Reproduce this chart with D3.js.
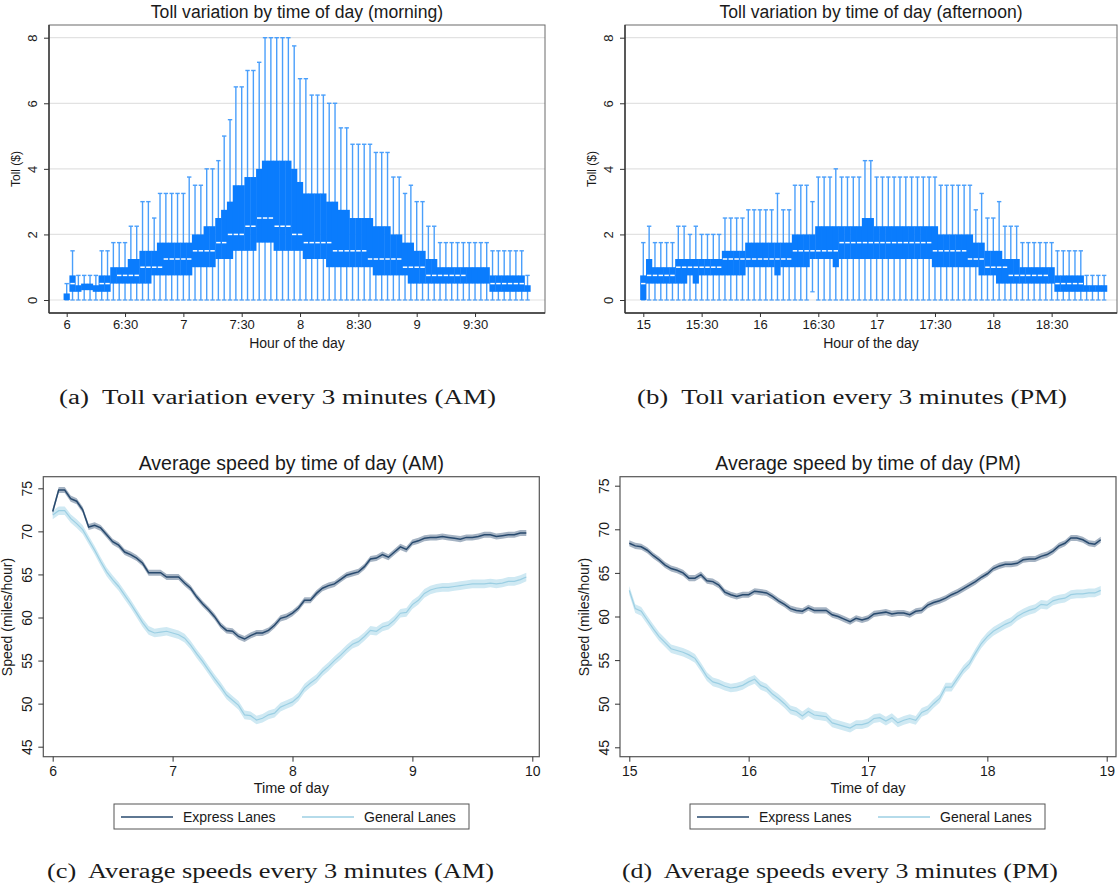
<!DOCTYPE html>
<html>
<head>
<meta charset="utf-8">
<script src="https://cdn.jsdelivr.net/npm/d3@7"></script>
<style>
  body { margin: 0; background: #fff; }
  svg { display: block; }
  text { font-family: "Liberation Sans", Arial, Helvetica, sans-serif; fill: #1a1a1a; }
  .cap { font-family: "Liberation Serif", "DejaVu Serif", serif; }
</style>
</head>
<body>
<svg id="chart" width="1119" height="895"></svg>
<script>
// ---------- DATA ----------
// 3-minute slots, minutes after the start hour
const slotMinutes = [0,3,6,9,12,15,18,21,24,27,30,33,36,39,42,45,48,51,54,57,
  60,63,66,69,72,75,78,81,84,87,90,93,96,99,102,105,108,111,114,117,
  120,123,126,129,132,135,138,141,144,147,150,153,156,159,162,165,168,171,174,177,
  180,183,186,189,192,195,198,201,204,207,210,213,216,219,222,225,228,231,234,237];

const tollTickValues = [0, 30, 60, 90, 120, 150, 180, 210];
const tollTickLabelsAM = ["6", "6:30", "7", "7:30", "8", "8:30", "9", "9:30"];
const tollTickLabelsPM = ["15", "15:30", "16", "16:30", "17", "17:30", "18", "18:30"];
const tollYTicks = [0, 2, 4, 6, 8];

// AM toll box plot ($)
const amHigh = [0.5,1.5,0.75,0.75,0.75,0.75,1.5,1.5,1.75,1.75,
  1.75,2.25,2.25,3.0,3.0,2.5,3.25,3.25,3.25,3.25,
  3.25,3.75,3.5,3.5,4.0,4.0,4.25,5.0,5.5,6.5,
  6.5,7.0,7.0,7.25,8,8,8,8,8,7.75,
  6.75,6.75,6.25,6.25,6.25,6.0,6.0,5.25,5.25,4.75,
  4.75,4.75,4.75,4.5,4.5,4.5,3.75,3.75,3.25,3.5,
  3.0,3.0,2.25,2.25,1.75,1.75,1.75,1.75,1.75,1.75,
  1.75,1.75,1.75,1.5,1.5,1.5,1.5,1.5,1.5,0.75];
const amQ3 = [0.2,0.75,0.45,0.5,0.5,0.45,0.75,0.75,1.0,1.0,
  1.0,1.25,1.25,1.5,1.5,1.5,1.75,1.75,1.75,1.75,
  1.75,1.75,2.0,2.0,2.25,2.25,2.5,2.75,3.0,3.5,
  3.5,3.75,3.75,4.0,4.25,4.25,4.25,4.25,4.25,4.0,
  3.6,3.25,3.25,3.25,3.25,3.0,3.0,2.75,2.75,2.5,
  2.5,2.5,2.5,2.25,2.25,2.25,2.0,2.0,1.75,1.75,
  1.5,1.5,1.25,1.25,1.0,1.0,1.0,1.0,1.0,1.0,
  1.0,1.0,1.0,0.75,0.75,0.75,0.75,0.75,0.75,0.45];
const amMedian = [null,0.5,null,null,null,null,0.5,0.5,null,0.75,
  0.75,0.75,0.75,1.0,1.0,1.0,1.0,1.25,1.25,1.25,
  1.25,1.25,1.5,1.5,1.5,1.5,1.75,1.75,2.0,2.0,
  2.0,2.25,2.25,2.5,2.5,2.5,2.25,2.25,2.25,2.0,
  2.0,1.75,1.75,1.75,1.75,1.75,1.5,1.5,1.5,1.5,
  1.5,1.5,1.25,1.25,1.25,1.25,1.25,1.25,1.0,1.0,
  1.0,1.0,0.75,0.75,0.75,0.75,0.75,0.75,0.75,null,
  null,null,null,0.5,0.5,0.5,0.5,0.5,0.5,null];
const amQ1 = [0,0.25,0.25,0.3,0.3,0.25,0.25,0.25,0.5,0.5,
  0.5,0.5,0.5,0.5,0.5,0.75,0.75,0.75,0.75,0.75,
  0.75,0.75,1.0,1.0,1.0,1.0,1.25,1.25,1.25,1.5,
  1.5,1.5,1.5,1.75,1.75,1.75,1.5,1.5,1.5,1.5,
  1.5,1.25,1.25,1.25,1.25,1.0,1.0,1.0,1.0,1.0,
  1.0,1.0,1.0,0.75,0.75,0.75,0.75,0.75,0.75,0.5,
  0.5,0.5,0.5,0.5,0.5,0.5,0.5,0.5,0.5,0.5,
  0.5,0.5,0.5,0.25,0.25,0.25,0.25,0.25,0.25,0.25];
const amLow = [0,0,0,0,0,0,0,0,0,0, 0,0,0,0,0,0,0,0,0,0,
  0,0,0,0,0,0,0,0,0,0, 0,0,0,0,0,0,0,0,0,0,
  0,0,0,0,0,0,0,0,0,0, 0,0,0,0,0,0,0,0,0,0,
  0,0,0,0,0,0,0,0,0,0, 0,0,0,0,0,0,0,0,0,0];

// PM toll box plot ($)
const pmHigh = [1.75,2.25,1.75,1.75,1.75,1.75,2.25,2.25,2.0,2.25,
  2.0,2.0,2.0,2.0,2.5,2.5,2.5,2.5,2.75,2.75,
  2.75,2.75,2.75,3.25,2.75,2.75,3.5,3.5,3.5,3.0,
  3.75,3.75,3.75,4.0,3.75,3.75,3.75,3.75,4.25,4.25,
  3.75,3.75,3.75,3.75,3.75,3.75,3.75,3.75,3.75,3.75,
  3.75,3.5,3.5,3.5,3.5,3.5,3.5,2.75,3.25,2.5,
  2.5,3.0,2.25,2.25,2.25,1.75,1.75,1.75,1.75,1.75,
  1.75,1.5,1.5,1.5,1.5,1.5,0.75,0.75,0.75,0.75];
const pmQ3 = [0.75,1.25,1.0,1.0,1.0,1.0,1.25,1.25,1.25,1.25,
  1.25,1.25,1.25,1.25,1.5,1.5,1.5,1.5,1.75,1.75,
  1.75,1.75,1.75,1.75,1.75,1.75,2.0,2.0,2.0,2.0,
  2.25,2.25,2.25,2.25,2.25,2.25,2.25,2.25,2.5,2.5,
  2.25,2.25,2.25,2.25,2.25,2.25,2.25,2.25,2.25,2.25,
  2.25,2.0,2.0,2.0,2.0,2.0,2.0,1.75,1.75,1.5,
  1.5,1.5,1.25,1.25,1.25,1.0,1.0,1.0,1.0,1.0,
  1.0,0.75,0.75,0.75,0.75,0.75,0.45,0.45,0.45,0.45];
const pmMedian = [0.5,0.75,0.75,0.75,0.75,0.75,1.0,1.0,1.0,1.0,
  1.0,1.0,1.0,1.0,1.25,1.25,1.25,1.25,1.25,1.25,
  1.25,1.25,1.25,1.25,1.25,1.25,1.5,1.5,1.5,1.5,
  1.5,1.5,1.5,1.5,1.75,1.75,1.75,1.75,1.75,1.75,
  1.75,1.75,1.75,1.75,1.75,1.75,1.75,1.75,1.75,1.75,
  1.5,1.5,1.5,1.5,1.5,1.5,1.25,1.25,1.25,1.0,
  1.0,1.0,1.0,0.75,0.75,0.75,0.75,0.75,0.75,0.75,
  null,0.5,0.5,0.5,0.5,0.5,null,null,null,null];
const pmQ1 = [0,0.5,0.5,0.5,0.5,0.5,0.5,0.5,0.75,0.5,
  0.75,0.75,0.75,0.75,0.75,0.75,0.75,0.75,1.0,1.0,
  1.0,1.0,1.0,0.75,1.0,1.0,1.0,1.0,1.0,1.25,
  1.25,1.25,1.25,1.0,1.25,1.25,1.25,1.25,1.25,1.25,
  1.25,1.25,1.25,1.25,1.25,1.25,1.25,1.25,1.25,1.25,
  1.0,1.0,1.0,1.0,1.0,1.0,1.0,1.0,0.75,0.75,
  0.75,0.5,0.5,0.5,0.5,0.5,0.5,0.5,0.5,0.5,
  0.5,0.25,0.25,0.25,0.25,0.25,0.25,0.25,0.25,0.25];
const pmLow = [0,0,0,0,0,0,0,0,0,0, 0,0,0,0,0,0,0,0,0,0,
  0,0,0,0,0,0,0,0,0,0.25, 0,0,0,0,0,0,0,0,0,0,
  0,0,0,0,0,0,0,0,0,0, 0,0,0,0,0,0,0,0,0,0,
  0,0,0,0,0,0,0,0,0,0, 0,0,0,0,0,0,0,0,0,0];

// Average speeds (miles/hour)
const speedYTicks = [45, 50, 55, 60, 65, 70, 75];
const speedXTicksAM = [6, 7, 8, 9, 10];
const speedXTicksPM = [15, 16, 17, 18, 19];
const amExpress = [72.3,74.8,74.8,73.8,73.5,72.5,70.5,70.7,70.4,69.6,
  68.8,68.4,67.6,67.3,66.9,66.3,65.2,65.2,65.2,64.7,
  64.7,64.7,64.0,63.4,62.4,61.6,60.9,60.1,59.1,58.5,
  58.4,57.8,57.5,57.9,58.2,58.2,58.5,59.1,59.9,60.1,
  60.5,61.1,62.0,62.0,62.8,63.4,63.7,63.9,64.4,64.9,
  65.1,65.3,65.9,66.8,66.9,67.3,67.0,67.6,68.2,67.9,
  68.7,68.9,69.2,69.3,69.3,69.4,69.3,69.2,69.1,69.3,
  69.3,69.4,69.6,69.6,69.4,69.5,69.6,69.6,69.8,69.8];
const amGeneral = [71.9,72.4,72.4,71.5,70.9,70.2,69.0,67.8,66.5,65.3,
  64.4,63.6,62.6,61.6,60.5,59.4,58.5,58.2,58.3,58.4,
  58.2,58.0,57.6,56.8,55.8,54.9,53.9,52.9,52.0,51.0,
  50.4,49.8,48.7,48.6,48.1,48.3,48.7,48.9,49.6,49.9,
  50.2,50.8,51.8,52.4,52.9,53.7,54.3,55.0,55.6,56.3,
  56.9,57.2,57.8,58.5,58.4,58.9,59.1,59.7,60.5,60.6,
  61.5,62.0,62.8,63.2,63.4,63.5,63.5,63.6,63.7,63.8,
  63.9,63.9,63.9,64.0,63.9,64.0,64.2,64.2,64.4,64.7];
const pmExpress = [68.4,68.1,68.0,67.6,67.0,66.5,65.9,65.5,65.3,65.0,
  64.4,64.4,64.8,64.1,64.0,63.6,62.8,62.5,62.3,62.5,
  62.5,62.9,62.8,62.7,62.3,61.8,61.4,60.9,60.7,60.6,
  61.0,60.7,60.7,60.7,60.2,60.0,59.7,59.4,59.8,59.6,
  59.8,60.3,60.4,60.5,60.3,60.4,60.4,60.2,60.6,60.7,
  61.3,61.6,61.8,62.1,62.5,62.8,63.2,63.6,64.0,64.5,
  64.9,65.5,65.8,66.0,66.0,66.1,66.5,66.6,66.6,66.9,
  67.1,67.5,68.1,68.4,69.0,69.0,68.8,68.4,68.3,68.8];
const pmGeneral = [63.0,60.9,60.6,59.6,58.6,57.7,57.0,56.3,56.1,55.9,
  55.6,55.2,54.2,53.1,52.5,52.3,52.0,51.8,51.9,52.1,
  52.5,52.8,52.1,51.8,51.1,50.6,50.0,49.3,49.1,48.6,
  49.1,48.7,48.6,48.5,47.8,47.6,47.4,47.2,47.6,47.6,
  47.8,48.3,48.4,48.0,48.4,47.8,48.1,48.3,48.1,49.0,
  49.3,50.0,50.6,51.9,51.9,52.9,53.9,54.6,55.8,56.9,
  57.7,58.3,58.7,59.1,59.4,60.0,60.4,60.7,60.9,61.4,
  61.3,61.8,62.0,62.1,62.5,62.6,62.6,62.7,62.7,63.0];
const ciExpress = 0.35;   // half-width of confidence band
const ciGeneral = 0.5;

const legendLabels = ["Express Lanes", "General Lanes"];

// ---------- DRAWING ----------
const svg = d3.select("#chart");
const BOX = "#0a7cfd", WHISK = "#4a9ffb";
const EXP = "#284a6e", EXP_BAND = "#95a6b9";
const GEN = "#9ccfe3", GEN_BAND = "#cfe9f3";

function tollPanel(o) {
  const g = svg.append("g");
  const x = d3.scaleLinear().domain([0, 240]).range([o.x0, o.x0 + 466.67]);
  const y = d3.scaleLinear().domain([0, 8]).range([300, 37.7]);
  const bw = x(3) - x(0);

  g.selectAll("line.grid").data(tollYTicks).join("line")
    .attr("x1", o.left).attr("x2", o.right)
    .attr("y1", d => y(d)).attr("y2", d => y(d))
    .attr("stroke", "#e2e2e2").attr("stroke-width", 1.2);

  const data = slotMinutes.map((m, i) => ({
    m, hi: o.hi[i], lo: o.lo[i], q1: o.q1[i], q3: o.q3[i], med: o.med[i]
  }));

  g.selectAll("line.wh").data(data).join("line")
    .attr("x1", d => x(d.m)).attr("x2", d => x(d.m))
    .attr("y1", d => y(d.lo)).attr("y2", d => y(d.hi))
    .attr("stroke", WHISK).attr("stroke-width", 1.4);
  g.selectAll("line.capt").data(data).join("line")
    .attr("x1", d => x(d.m) - 2.2).attr("x2", d => x(d.m) + 2.2)
    .attr("y1", d => y(d.hi)).attr("y2", d => y(d.hi))
    .attr("stroke", WHISK).attr("stroke-width", 1.4);
  g.selectAll("line.capb").data(data).join("line")
    .attr("x1", d => x(d.m) - 2.2).attr("x2", d => x(d.m) + 2.2)
    .attr("y1", d => y(d.lo)).attr("y2", d => y(d.lo))
    .attr("stroke", WHISK).attr("stroke-width", 1.2);

  g.selectAll("rect.box").data(data).join("rect")
    .attr("x", d => x(d.m) - bw / 2 - 0.2).attr("width", bw + 0.4)
    .attr("y", d => y(d.q3)).attr("height", d => y(d.q1) - y(d.q3))
    .attr("fill", BOX);

  g.selectAll("line.med").data(data.filter(d => d.med !== null)).join("line")
    .attr("x1", d => x(d.m) - bw / 2 + 0.7).attr("x2", d => x(d.m) + bw / 2 - 0.7)
    .attr("y1", d => y(d.med)).attr("y2", d => y(d.med))
    .attr("stroke", "#fff").attr("stroke-width", 1.5);

  // frame
  g.append("rect").attr("x", o.left).attr("y", 25)
    .attr("width", o.right - o.left).attr("height", 313 - 25)
    .attr("fill", "none").attr("stroke", "#6a6a6a").attr("stroke-width", 1);
  g.append("line").attr("x1", o.left).attr("x2", o.left).attr("y1", 25).attr("y2", 313)
    .attr("stroke", "#333").attr("stroke-width", 1.4);
  g.append("line").attr("x1", o.left).attr("x2", o.right).attr("y1", 313).attr("y2", 313)
    .attr("stroke", "#333").attr("stroke-width", 1.4);

  // axes
  const ax = g.append("g").attr("transform", "translate(0,313)")
    .call(d3.axisBottom(x).tickValues(tollTickValues)
      .tickFormat((d, i) => o.labels[i]).tickSize(4).tickPadding(3));
  ax.select(".domain").remove();
  ax.selectAll("line").attr("stroke", "#333");
  ax.selectAll("text").attr("font-size", 13).attr("fill", "#1a1a1a")
    .style("font-family", '"Liberation Sans", Arial, sans-serif');

  const ay = g.append("g").attr("transform", `translate(${o.left},0)`)
    .call(d3.axisLeft(y).tickValues(tollYTicks).tickSize(5));
  ay.select(".domain").remove();
  ay.selectAll("line").attr("stroke", "#333");
  ay.selectAll("text").attr("font-size", 13).attr("fill", "#1a1a1a")
    .style("font-family", '"Liberation Sans", Arial, sans-serif')
    .attr("transform", "rotate(-90)").attr("x", 0).attr("y", -17)
    .attr("dy", "0.36em").style("text-anchor", "middle");

  const cx = (o.left + o.right) / 2;
  g.append("text").attr("x", cx).attr("y", 18).attr("text-anchor", "middle")
    .attr("font-size", 17.6).text(o.title);
  g.append("text").attr("x", cx).attr("y", 348).attr("text-anchor", "middle")
    .attr("font-size", 14).text("Hour of the day");
  g.append("text").attr("transform", `translate(${o.left - 29},169) rotate(-90)`)
    .attr("text-anchor", "middle").attr("font-size", 12).text("Toll ($)");
}

function speedPanel(o) {
  const g = svg.append("g");
  const x = d3.scaleLinear().domain(o.xDomain).range(o.xRange);
  const y = d3.scaleLinear().domain([45, 75]).range(o.yRange);
  const pts = slotMinutes.map((m, i) => ({ t: o.start + m / 60, e: o.express[i], g: o.general[i] }));

  const bandG = d3.area().x(d => x(d.t)).y0(d => y(d.g - ciGeneral)).y1(d => y(d.g + ciGeneral));
  const bandE = d3.area().x(d => x(d.t)).y0(d => y(d.e - ciExpress)).y1(d => y(d.e + ciExpress));
  const lineG = d3.line().x(d => x(d.t)).y(d => y(d.g));
  const lineE = d3.line().x(d => x(d.t)).y(d => y(d.e));

  g.append("path").datum(pts).attr("d", bandG).attr("fill", GEN_BAND);
  g.append("path").datum(pts).attr("d", lineG).attr("fill", "none")
    .attr("stroke", GEN).attr("stroke-width", 1.2);
  g.append("path").datum(pts).attr("d", bandE).attr("fill", EXP_BAND).attr("opacity", 0.85);
  g.append("path").datum(pts).attr("d", lineE).attr("fill", "none")
    .attr("stroke", EXP).attr("stroke-width", 1.5);

  g.append("rect").attr("x", o.left).attr("y", 476.7)
    .attr("width", o.right - o.left).attr("height", 756.7 - 476.7)
    .attr("fill", "none").attr("stroke", "#555").attr("stroke-width", 1.2);

  const ax = g.append("g").attr("transform", "translate(0,756.7)")
    .call(d3.axisBottom(x).tickValues(o.xTicks).tickFormat(d3.format("d")).tickSize(5).tickPadding(4));
  ax.select(".domain").remove();
  ax.selectAll("line").attr("stroke", "#333");
  ax.selectAll("text").attr("font-size", 14).attr("fill", "#1a1a1a")
    .style("font-family", '"Liberation Sans", Arial, sans-serif');

  const ay = g.append("g").attr("transform", `translate(${o.left},0)`)
    .call(d3.axisLeft(y).tickValues(speedYTicks).tickSize(5));
  ay.select(".domain").remove();
  ay.selectAll("line").attr("stroke", "#333");
  ay.selectAll("text").attr("font-size", 14).attr("fill", "#1a1a1a")
    .style("font-family", '"Liberation Sans", Arial, sans-serif')
    .attr("transform", "rotate(-90)").attr("x", 0).attr("y", -16)
    .attr("dy", "0.36em").style("text-anchor", "middle");

  const cx = (o.left + o.right) / 2;
  g.append("text").attr("x", cx).attr("y", 470).attr("text-anchor", "middle")
    .attr("font-size", 19.5).text(o.title);
  g.append("text").attr("x", cx).attr("y", 793).attr("text-anchor", "middle")
    .attr("font-size", 14.5).text("Time of day");
  g.append("text").attr("transform", `translate(${o.left - 31},617) rotate(-90)`)
    .attr("text-anchor", "middle").attr("font-size", 14).text("Speed (miles/hour)");

  // legend
  const lg = g.append("g");
  lg.append("rect").attr("x", o.legX).attr("y", 804).attr("width", 355).attr("height", 25)
    .attr("fill", "#fff").attr("stroke", "#555").attr("stroke-width", 1);
  const items = [{ c: EXP, w: 1.5, dx: 7 }, { c: GEN, w: 1.5, dx: 188 }];
  lg.selectAll("line.li").data(items).join("line")
    .attr("x1", d => o.legX + d.dx).attr("x2", d => o.legX + d.dx + 52)
    .attr("y1", 817).attr("y2", 817).attr("stroke", d => d.c).attr("stroke-width", d => d.w);
  lg.selectAll("text.lt").data(items).join("text")
    .attr("x", d => o.legX + d.dx + 62).attr("y", 822)
    .attr("font-size", 14).text((d, i) => legendLabels[i]);
}

tollPanel({ left: 49, right: 545, x0: 66.7, hi: amHigh, lo: amLow, q1: amQ1, q3: amQ3, med: amMedian,
  labels: tollTickLabelsAM, title: "Toll variation by time of day (morning)" });
tollPanel({ left: 625, right: 1117, x0: 643.3, hi: pmHigh, lo: pmLow, q1: pmQ1, q3: pmQ3, med: pmMedian,
  labels: tollTickLabelsPM, title: "Toll variation by time of day (afternoon)" });

speedPanel({ left: 43.3, right: 539.3, xDomain: [6, 10], xRange: [52.7, 532.3], yRange: [746.7, 488.3],
  start: 6, express: amExpress, general: amGeneral, xTicks: speedXTicksAM, legX: 114,
  title: "Average speed by time of day (AM)" });
speedPanel({ left: 620, right: 1116, xDomain: [15, 19], xRange: [629.3, 1106.7], yRange: [747.3, 485.7],
  start: 15, express: pmExpress, general: pmGeneral, xTicks: speedXTicksPM, legX: 690,
  title: "Average speed by time of day (PM)" });

// captions
const captions = [
  { t: "(a)  Toll variation every 3 minutes (AM)", x: 59, y: 404, len: 437 },
  { t: "(b)  Toll variation every 3 minutes (PM)", x: 637, y: 404, len: 430 },
  { t: "(c)  Average speeds every 3 minutes (AM)", x: 47, y: 878, len: 447 },
  { t: "(d)  Average speeds every 3 minutes (PM)", x: 622, y: 878, len: 436 }
];
svg.selectAll("text.capt").data(captions).join("text")
  .attr("class", "cap").attr("x", d => d.x).attr("y", d => d.y)
  .attr("font-size", 20).attr("textLength", d => d.len)
  .attr("lengthAdjust", "spacingAndGlyphs")
  .style("white-space", "pre").text(d => d.t);
</script>
</body>
</html>
